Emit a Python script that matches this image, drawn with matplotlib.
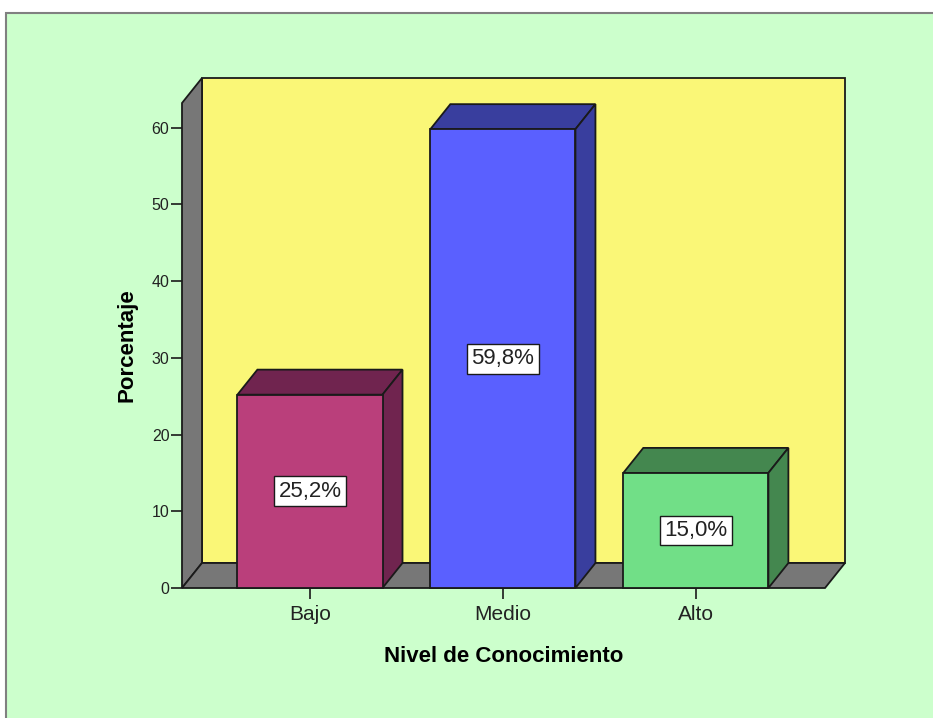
import matplotlib.pyplot as plt
from matplotlib.patches import Polygon, Rectangle

plt.rcParams['font.family'] = ['Liberation Sans', 'DejaVu Sans']

# datos
categorias = ['Bajo', 'Medio', 'Alto']
porcentajes = [25.2, 59.8, 15.0]
yticks = [0, 10, 20, 30, 40, 50, 60]

col_frente = ['#BA3F7B', '#5A60FF', '#71DF87']
col_lado = ['#70244F', '#393E9E', '#44874F']

W = 0.752          # ancho de barra
DX, DY = 0.1036, 3.26   # profundidad 3D en unidades de datos
XMIN, XMAX = -0.6632, 2.773
YMAX = 66.47
XFR = XMAX - DX    # borde derecho del suelo (frente)
YFR = YMAX - DY    # alto de la pared izquierda (frente)

fig = plt.figure(figsize=(9.33, 7.18), dpi=100)
fig.patch.set_facecolor('white')
fig.patches.append(Rectangle((5.5 / 933, -0.05), 1.2, 1 - 13 / 718 + 0.05,
                             transform=fig.transFigure, facecolor='#CCFFCC',
                             edgecolor='#808080', lw=1.5, zorder=-10))

ax = fig.add_axes([182 / 933, 130 / 718, (845 - 182) / 933, (588 - 78) / 718])
ax.set_xlim(XMIN, XMAX)
ax.set_ylim(0, YMAX)
ax.patch.set_visible(False)
for s in ax.spines.values():
    s.set_visible(False)

ec = '#1a1a1a'
lw = 1.3

# paredes y suelo
ax.add_patch(Rectangle((XMIN + DX, DY), XMAX - XMIN - DX, YMAX - DY,
                       facecolor='#FAF777', edgecolor=ec, lw=lw, clip_on=False, zorder=1))
ax.add_patch(Polygon([(XMIN, 0), (XMIN + DX, DY), (XMIN + DX, YMAX), (XMIN, YFR)],
                     facecolor='#777777', edgecolor=ec, lw=lw, clip_on=False, zorder=1))
ax.add_patch(Polygon([(XMIN, 0), (XFR, 0), (XMAX, DY), (XMIN + DX, DY)],
                     facecolor='#777777', edgecolor=ec, lw=lw, clip_on=False, zorder=1))

xs = list(range(len(categorias)))
for x, v, cf, cl in zip(xs, porcentajes, col_frente, col_lado):
    x0, x1 = x - W / 2, x + W / 2
    ax.add_patch(Polygon([(x0, v), (x1, v), (x1 + DX, v + DY), (x0 + DX, v + DY)],
                         facecolor=cl, edgecolor=ec, lw=lw, clip_on=False, zorder=2))
    ax.add_patch(Polygon([(x1, 0), (x1 + DX, DY), (x1 + DX, v + DY), (x1, v)],
                         facecolor=cl, edgecolor=ec, lw=lw, clip_on=False, zorder=2))

ax.bar(xs, porcentajes, width=W, color=col_frente, edgecolor=ec, lw=lw,
       zorder=3, clip_on=False)

for x, v in zip(xs, porcentajes):
    etiqueta = f'{v:.1f}'.replace('.', ',') + '%'
    ax.text(x, v / 2, etiqueta, ha='center', va='center', fontsize=16, zorder=4,
            color='#222222',
            bbox=dict(boxstyle='square,pad=0.2', facecolor='white',
                      edgecolor=ec, lw=1.0))

ax.set_yticks(yticks)
ax.set_yticklabels([str(t) for t in yticks])
ax.set_xticks(xs)
ax.set_xticklabels(categorias)
ax.tick_params(axis='y', length=8, width=1.2, pad=1, labelsize=11.5, color=ec,
               labelcolor='#222222')
ax.tick_params(axis='x', length=8, width=1.2, pad=4.5, labelsize=15, color=ec,
               labelcolor='#222222')

ax.text(0.4857, -0.134, 'Nivel de Conocimiento', transform=ax.transAxes,
        ha='center', va='center', fontsize=16, fontweight='bold')
ax.text(-0.083, 0.476, 'Porcentaje', transform=ax.transAxes, rotation=90,
        ha='center', va='center', fontsize=16, fontweight='bold')

fig.savefig('out.png', dpi=100)
